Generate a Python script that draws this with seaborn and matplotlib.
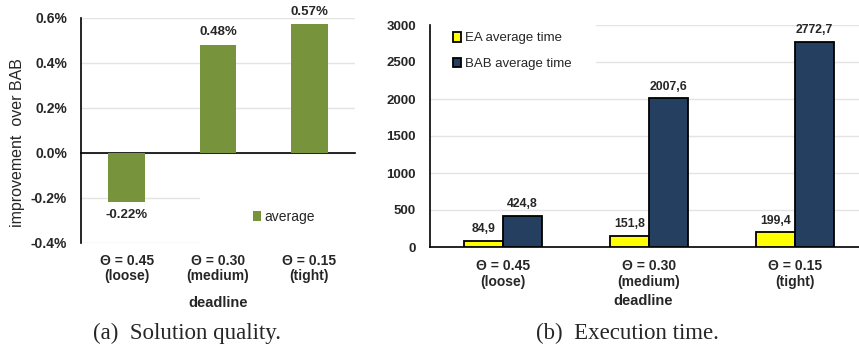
import matplotlib
matplotlib.use("Agg")
import matplotlib.pyplot as plt
import matplotlib.patches as mpatches
from matplotlib.ticker import FuncFormatter, FixedLocator
import seaborn as sns
import pandas as pd

# ---------------- data ----------------
categories = ["Θ = 0.45\n(loose)", "Θ = 0.30\n(medium)", "Θ = 0.15\n(tight)"]
improvement = [-0.22, 0.48, 0.57]          # percent
improvement_series = "average"

time_series = ["EA average time", "BAB average time"]
ea_time = [84.9, 151.8, 199.4]
bab_time = [424.8, 2007.6, 2772.7]

left_yticks = [-0.4, -0.2, 0.0, 0.2, 0.4, 0.6]
right_yticks = [0, 500, 1000, 1500, 2000, 2500, 3000]

GREEN = "#77933C"
YELLOW = "#FFFF00"
NAVY = "#243F60"
GRID = "#E4E4E4"

sns.set_style("white")
plt.rcParams["font.family"] = ["Liberation Sans", "DejaVu Sans"]

W, H = 859, 347
fig = plt.figure(figsize=(W / 100, H / 100), dpi=100)

# ---------------- left panel ----------------
ax1 = fig.add_axes([81 / W, 1 - 243 / H, 274 / W, 225.3 / H])
df1 = pd.DataFrame({"deadline": categories, "imp": improvement,
                    "series": [improvement_series] * len(categories)})
sns.barplot(data=df1, x="deadline", y="imp", hue="series", palette=[GREEN],
            width=0.4, saturation=1, edgecolor=GREEN, linewidth=0, ax=ax1,
            zorder=3)
ax1.set_xlim(-0.5, 2.5)
ax1.set_ylim(-0.4, 0.6)
ax1.yaxis.set_major_locator(FixedLocator(left_yticks))
ax1.yaxis.set_major_formatter(FuncFormatter(lambda v, p: f"{v:.1f}%"))
ax1.set_axisbelow(True)
ax1.grid(axis="y", color=GRID, linewidth=1)
for s in ["top", "right"]:
    ax1.spines[s].set_visible(False)
for s in ["left", "bottom"]:
    ax1.spines[s].set_color("black")
    ax1.spines[s].set_linewidth(1.2)
ax1.spines["bottom"].set_position(("data", 0))
ax1.set_xticks([0.5, 1.5, 2.5])
ax1.set_xticklabels([])
ax1.tick_params(axis="x", direction="out", length=4, width=1.2, color="black")
ax1.tick_params(axis="y", direction="out", length=4, width=1.2, color="black",
                pad=6, labelsize=10)
for t in ax1.get_yticklabels():
    t.set_fontweight("bold")
ax1.set_xlabel("")
ax1.set_ylabel("improvement  over BAB", fontsize=11.5)
ax1.yaxis.set_label_coords(-0.205, 0.446)

sec = ax1.secondary_xaxis("bottom")
sec.set_xticks(range(len(categories)))
sec.set_xticklabels(categories, fontsize=10, fontweight="bold", linespacing=1.1)
sec.tick_params(length=0, pad=8)
sec.spines["bottom"].set_visible(False)
sec.set_xlabel("deadline", fontsize=10.5, fontweight="bold", labelpad=9)

for c in ax1.containers:
    vals = c.datavalues
    ax1.bar_label(c, labels=[f"{v:.2f}%" for v in vals], padding=4.5,
                  fontsize=9.5, fontweight="bold")

# white area behind legend hiding grid
ax1.add_patch(mpatches.Rectangle((0.434, -0.01), 0.6, 0.245, transform=ax1.transAxes,
                                 facecolor="white", edgecolor="none", zorder=1,
                                 clip_on=False))
h, l = ax1.get_legend_handles_labels()
if ax1.get_legend():
    ax1.get_legend().remove()
ax1.legend(h, l, loc="center left", bbox_to_anchor=(253 / W, 1 - 217 / H),
           bbox_transform=fig.transFigure, frameon=False, fontsize=10,
           handlelength=0.6, handleheight=0.75, handletextpad=0.25, borderpad=0,
           borderaxespad=0)

# ---------------- right panel ----------------
ax2 = fig.add_axes([430 / W, 1 - 247 / H, 438 / W, 222 / H])
df2 = pd.DataFrame({
    "deadline": categories * 2,
    "time": ea_time + bab_time,
    "series": [time_series[0]] * 3 + [time_series[1]] * 3,
})
sns.barplot(data=df2, x="deadline", y="time", hue="series", hue_order=time_series,
            palette=[YELLOW, NAVY], width=0.54, gap=0, saturation=1,
            edgecolor="black", linewidth=1.3, ax=ax2, zorder=3)
ax2.set_xlim(-0.5, 2.5)
ax2.set_ylim(0, 3000)
ax2.yaxis.set_major_locator(FixedLocator(right_yticks))
ax2.set_axisbelow(True)
ax2.grid(axis="y", color=GRID, linewidth=1)
for s in ["top", "right"]:
    ax2.spines[s].set_visible(False)
for s in ["left", "bottom"]:
    ax2.spines[s].set_color("black")
    ax2.spines[s].set_linewidth(1.2)
ax2.set_xticks(range(len(categories)))
ax2.set_xticklabels(categories, fontsize=10, fontweight="bold", linespacing=1.1)
ax2.set_xticks([-0.5, 0.5, 1.5, 2.5], minor=True)
ax2.tick_params(axis="x", which="major", length=0, pad=9)
ax2.tick_params(axis="x", which="minor", direction="out", length=4, width=1.2,
                color="black")
ax2.tick_params(axis="y", direction="out", length=4, width=1.2, color="black",
                pad=6, labelsize=9.5)
for t in ax2.get_yticklabels():
    t.set_fontweight("bold")
ax2.set_ylabel("")
ax2.set_xlabel("deadline", fontsize=10.5, fontweight="bold")
ax2.xaxis.set_label_coords((643 - 430) / 438, -(294 - 247) / 222)
ax2.xaxis.label.set_verticalalignment("top")

for c in ax2.containers:
    vals = c.datavalues
    ax2.bar_label(c, labels=[f"{v:.1f}".replace(".", ",") for v in vals],
                  padding=4, fontsize=8.8, fontweight="bold")

ax2.add_patch(mpatches.Rectangle((-0.005, 0.73), 0.384, 0.3, transform=ax2.transAxes,
                                 facecolor="white", edgecolor="none", zorder=1,
                                 clip_on=False))
h, l = ax2.get_legend_handles_labels()
if ax2.get_legend():
    ax2.get_legend().remove()
ax2.legend(h, l, loc="center left", bbox_to_anchor=(453 / W, 1 - 51 / H),
           bbox_transform=fig.transFigure, frameon=False, fontsize=9.5,
           handlelength=0.6, handleheight=0.75, handletextpad=0.3, borderpad=0,
           borderaxespad=0, labelspacing=1.0)

# ---------------- captions ----------------
fig.text(187 / W, 1 - 333 / H, "(a)  Solution quality.", ha="center", va="center",
         fontsize=16.5, family=["Liberation Serif", "DejaVu Serif"])
fig.text(627 / W, 1 - 333 / H, "(b)  Execution time.", ha="center", va="center",
         fontsize=16.5, family=["Liberation Serif", "DejaVu Serif"])

fig.savefig("out.png", dpi=100)
